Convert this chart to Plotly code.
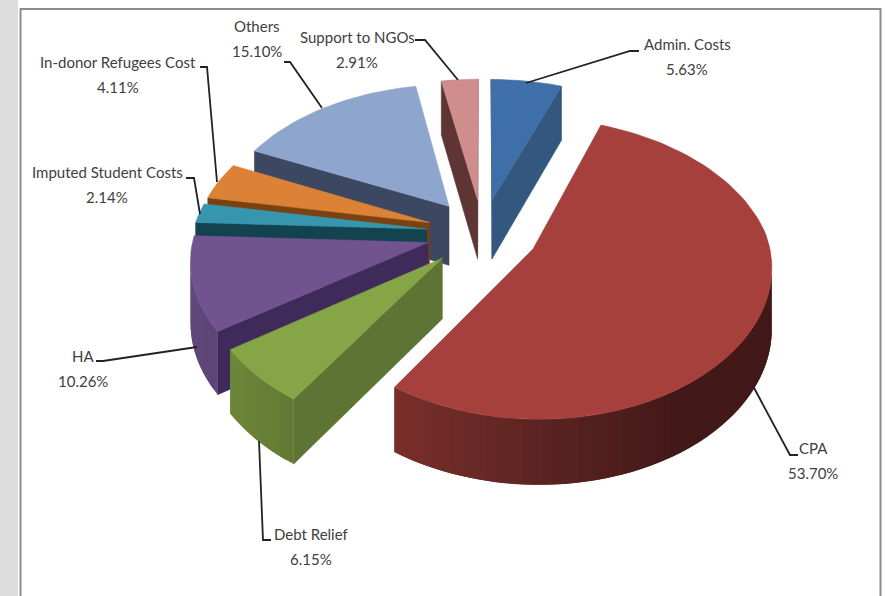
import math
import plotly.graph_objects as go

# Spending shares, clockwise from twelve o'clock
categories = ["Admin. Costs", "CPA", "Debt Relief", "HA", "Imputed Student Costs",
              "In-donor Refugees Cost", "Others", "Support to NGOs"]
shares = [5.63, 53.70, 6.15, 10.26, 2.14, 4.11, 15.10, 2.91]

top_colors = ["#3f6fa8", "#a5403c", "#86a547", "#71548f", "#3596ad", "#db8237", "#8ea5cd", "#cf8d8c"]
wall_colors = ["#33577f", "#6a2825", "#5d7434", "#3f2b59", "#144350", "#7a4210", "#3c4762", "#5e3532"]

label_x = [687, 813, 311, 83, 107, 118, 257, 357]
label_y = [44, 448, 534, 356, 172, 62, 26, 37]
leaders = [
    [(526, 83), (630, 51), (639, 51)],
    [(753, 386), (790, 455), (798, 455)],
    [(259, 441), (263, 540), (271, 540)],
    [(197, 347), (103, 361), (96, 361)],
    [(200, 214), (194, 178), (186, 178)],
    [(217, 182), (207, 67), (200, 67)],
    [(322, 108), (290, 62), (284, 62)],
    [(458, 80), (425, 40), (415, 40)],
]

# Projection of the tilted pie plane onto the page
CX, CY = 482.5, 233
A, B, K = 234, 144, 0.129
K_FRONT_X = 0.105
EXPLODE = 0.24
DEPTH = 60
FONT = "Lato"


def project(x, y):
    w = 1 + K * y
    wx = w if y > 0 else 1 + K_FRONT_X * y
    return CX + A * x / wx, CY - B * y / w


def lower(p, y):
    return p[0], p[1] + DEPTH - 5 * y


def rgb(hex_color):
    return tuple(int(hex_color[i:i + 2], 16) for i in (1, 3, 5))


def shade(hex_color, factor):
    return "rgb(%d,%d,%d)" % tuple(min(255, c * factor) for c in rgb(hex_color))


def polygon(points, color, stroke=0.6):
    return go.Scatter(
        x=[p[0] for p in points] + [points[0][0]],
        y=[p[1] for p in points] + [points[0][1]],
        mode="lines", fill="toself", fillcolor=color,
        line=dict(color=color, width=stroke),
        hoverinfo="skip", showlegend=False,
    )


# Angular extent of every slice from its share
slices = []
running = 0.0
total = sum(shares)
for i, value in enumerate(shares):
    start = running / total * 2 * math.pi
    running += value
    end = running / total * 2 * math.pi
    mid = (start + end) / 2
    ox, oy = EXPLODE * math.sin(mid), EXPLODE * math.cos(mid)
    slices.append(dict(i=i, start=start, end=end, ox=ox, oy=oy))

fig = go.Figure()

# Far slices first, so nearer ones paint over them
for s in sorted(slices, key=lambda item: -item["oy"]):
    i = s["i"]
    steps = max(2, int(math.degrees(s["end"] - s["start"]) / 2))
    plane = []
    for n in range(steps + 1):
        t = s["start"] + (s["end"] - s["start"]) * n / steps
        plane.append((s["ox"] + math.sin(t), s["oy"] + math.cos(t), t))
    rim = [project(p[0], p[1]) for p in plane]
    apex = project(s["ox"], s["oy"])

    # Radial walls show only where the edge runs leftwards on the page
    if rim[0][0] < apex[0]:
        fig.add_trace(polygon([apex, rim[0], lower(rim[0], plane[0][1]), lower(apex, s["oy"])],
                              wall_colors[i]))
    if apex[0] < rim[-1][0]:
        fig.add_trace(polygon([rim[-1], apex, lower(apex, s["oy"]), lower(rim[-1], plane[-1][1])],
                              wall_colors[i]))

    # Outer wall as overlapping bands, darkening towards the right
    for n in range(steps):
        m = min(steps, n + 2)
        if rim[n + 1][0] >= rim[n][0]:
            continue
        theta = plane[n][2]
        tone = max(0.4, 0.88 - 0.62 * (math.sin(theta) + 1) / 2)
        arc = rim[n:m + 1]
        base = [lower(rim[j], plane[j][1]) for j in range(n, m + 1)]
        fig.add_trace(polygon(arc + base[::-1], shade(top_colors[i], tone), stroke=0))

    fig.add_trace(polygon([apex] + rim, top_colors[i]))

# Leader lines between labels and slices
for path in leaders:
    fig.add_trace(go.Scatter(
        x=[p[0] for p in path], y=[p[1] for p in path], mode="lines",
        line=dict(color="#222222", width=1.8), hoverinfo="skip", showlegend=False,
    ))

# Two-line labels: category name above its share
for name, value, x, y in zip(categories, shares, label_x, label_y):
    for text, yy in ((name, y), (f"{value:.2f}%", y + 25)):
        fig.add_annotation(x=x, y=yy, text=text, showarrow=False, xref="x", yref="y",
                           xanchor="center", yanchor="middle",
                           font=dict(family=FONT, size=15, color="#404040"))

# Page strip on the left and the chart frame
fig.add_shape(type="rect", x0=0, x1=18, y0=0, y1=596, fillcolor="#dcdcdc", line_width=0, layer="below")
fig.add_shape(type="rect", x0=20.5, x1=880.5, y0=9, y1=610, fillcolor="rgba(0,0,0,0)",
              line=dict(color="#8c8c8c", width=2), layer="below")

fig.update_layout(
    width=886, height=596, margin=dict(l=0, r=0, t=0, b=0),
    paper_bgcolor="white", plot_bgcolor="white",
    xaxis=dict(range=[0, 886], visible=False, fixedrange=True),
    yaxis=dict(range=[596, 0], visible=False, fixedrange=True),
)
fig.write_html("out.html")
